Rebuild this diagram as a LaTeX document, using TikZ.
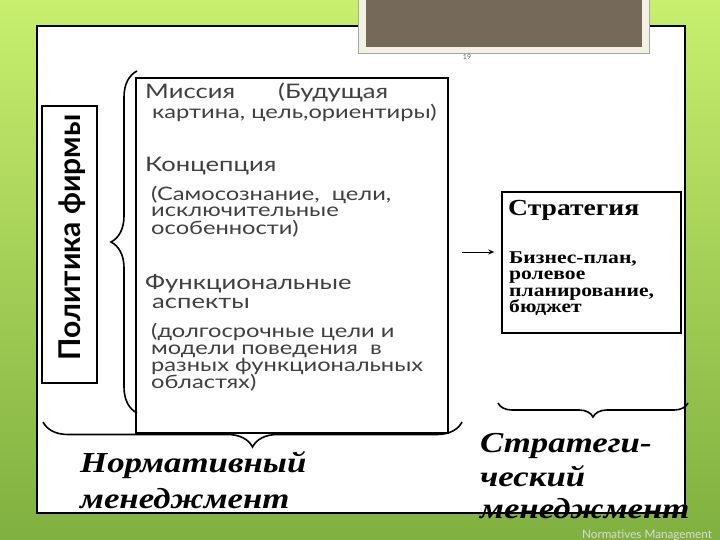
\documentclass[tikz,border=0pt]{standalone}
\usepackage{fontspec}
\setmainfont{Liberation Serif}
\newfontfamily\gothfont{Lato}
\newfontfamily\gothwide[FakeStretch=1.28]{Lato}
\newfontfamily\wideserif[FakeStretch=1.2]{Liberation Serif}
\usetikzlibrary{positioning,arrows.meta,decorations.pathreplacing}
\definecolor{limetop}{HTML}{C8EF6E}
\definecolor{leafbottom}{HTML}{80B040}
\definecolor{slate}{HTML}{756A5A}
\definecolor{cream}{HTML}{F3F1E4}

\begin{document}
\begin{tikzpicture}[x=1pt, y=-1pt, >=Stealth]
\tikzset{
  gothA/.style={font=\gothwide\fontsize{20}{20}\selectfont, text=black!75, inner sep=0pt, anchor=base west},
  gothB/.style={font=\gothwide\fontsize{18.5}{18.5}\selectfont, text=black!75, inner sep=0pt, anchor=base west},
  stratA/.style={font=\wideserif\bfseries\fontsize{23}{23}\selectfont, inner sep=0pt, anchor=base west},
  stratB/.style={font=\wideserif\bfseries\fontsize{18}{18}\selectfont, inner sep=0pt, anchor=base west},
  mgmt/.style={font=\wideserif\bfseries\itshape\fontsize{29}{29}\selectfont, inner sep=0pt, anchor=base west},
  bracket/.style={decorate, decoration={brace, amplitude=#1}, line width=1.6pt}
}
\useasboundingbox (0,0) rectangle (720,540);
\shade[top color=limetop, bottom color=leafbottom] (0,0) rectangle (720,540);
\draw[fill=white, line width=1.2pt] (37,26) rectangle (685,513);
\draw[fill=cream, draw=black!35] (358,-2) rectangle (649,53);
\fill[slate] (366,-2) rectangle (642,47);
\node[font=\gothfont\fontsize{7}{7}\selectfont, text=black!60] (pagenum) at (467,57) {19};

\node[draw, line width=1.5pt, minimum width=55, minimum height=277, inner sep=0pt] (policy) at (69.5,244.5) {};
\node[rotate=90, anchor=base, inner sep=0pt, font=\gothfont\bfseries\fontsize{30}{30}\selectfont] (policytext) at (80,237.5) {Политика фирмы};

\node[draw, line width=2pt, minimum width=312, minimum height=355, inner sep=0pt] (mainbox) at (292,255.5) {};
\node[gothA] (mission) at (145,99) {Миссия};
\node[gothA] (future) at (278,99) {(Будущая};
\node[gothB] (picture) at (152,119) {картина, цель,ориентиры)};
\node[gothA] (concept) at (145,172) {Концепция};
\foreach \yy/\txt in {201/{(Самосознание,\ \ цели,}, 217/исключительные, 234/{особенности)}}
  \node[gothB] (concept-\yy) at (151,\yy) {\txt};
\node[gothA] (functional) at (145,289) {Функциональные};
\node[gothA] (aspects) at (152,308) {аспекты};
\foreach \yy/\txt in {337/{(долгосрочные цели и}, 354/{модели поведения\ \ в}, 371/{разных функциональных}, 388/{областях)}}
  \node[gothB] (aspects-\yy) at (151,\yy) {\txt};

\node[draw, line width=1.5pt, minimum width=179, minimum height=141, inner sep=0pt] (strat) at (591.5,262.5) {};
\node[stratA] (strattitle) at (508,215) {Стратегия};
\foreach \yy/\txt in {263/{Бизнес-план,}, 279/ролевое, 296/{планирование,}, 312/бюджет}
  \node[stratB] (stratline-\yy) at (509,\yy) {\txt};
\coordinate (arrowstart) at (462,252);
\draw[-{Stealth[length=6pt,width=5pt]}, line width=0.9pt, shorten >=7pt] (arrowstart) -- (arrowstart -| strat.west);

\draw[bracket=26] (137,413) -- (137,71);
\draw[bracket=25] (462,422) -- (43,422);
\draw[bracket=14] (688,403) -- (498,403);

\node[mgmt] (normA) at (80,472) {Нормативный};
\node[mgmt] (normB) at (80,508) {менеджмент};
\node[mgmt] (stratmA) at (480,452) {Стратеги-};
\node[mgmt] (stratmB) at (480,486) {ческий};
\node[mgmt] (stratmC) at (480,518) {менеджмент};
\node[font=\gothfont\fontsize{11.7}{11.7}\selectfont, text=white!85!black, inner sep=0pt, anchor=base west] (footer) at (582,538) {Normatives Management};
\end{tikzpicture}
\end{document}
